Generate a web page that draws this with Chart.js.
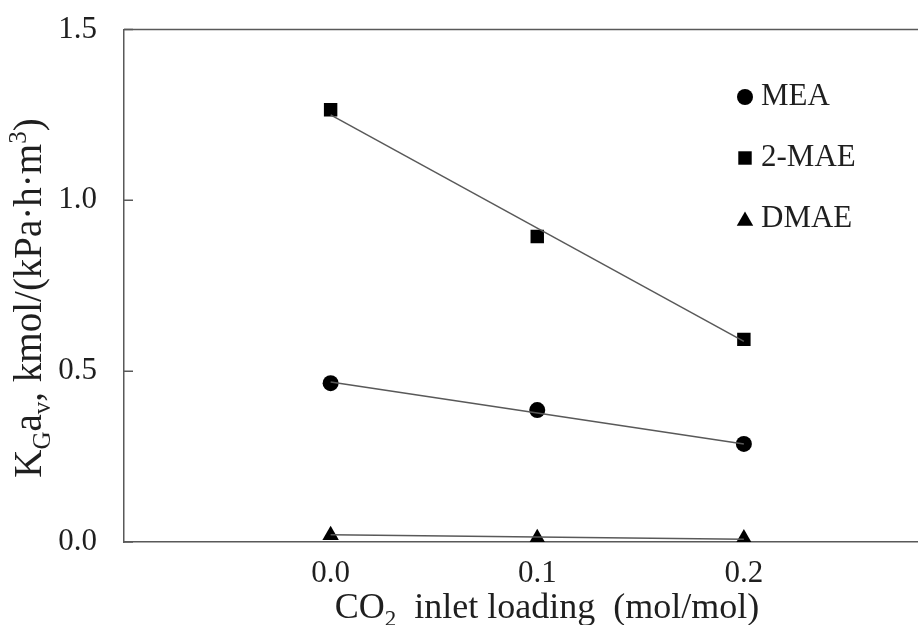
<!DOCTYPE html>
<html>
<head>
<meta charset="utf-8">
<script src="https://cdn.jsdelivr.net/npm/chart.js@4/dist/chart.umd.min.js"></script>
<style>
  html, body { margin: 0; padding: 0; background: #fff; overflow: hidden; }
  #wrap { width: 960px; height: 625px; }
</style>
</head>
<body>
<div id="wrap"><canvas id="kga-chart" width="960" height="625"></canvas></div>
<script>
// CO2 loading on the x axis (mol/mol)
const loadings = [0.0, 0.1, 0.2];
// KGav values
const mea = [0.465, 0.386, 0.287];
const mae2 = [1.265, 0.894, 0.593];
const dmae = [0.020, 0.011, 0.010];
// straight trend lines (ends at 0.0 and 0.2)
const fitX = [0.0, 0.2];
const meaFit = [0.468, 0.287];
const mae2Fit = [1.250, 0.587];
const dmaeFit = [0.021, 0.008];

const xTicks = [0.0, 0.1, 0.2];
const yTicks = [0.0, 0.5, 1.0, 1.5];

const FONT = "'Liberation Serif', 'Times New Roman', serif";
const TXT = "#1f1f1f";
const AXIS = "#595959";

const pts = (xs, ys) => xs.map((x, i) => ({ x: x, y: ys[i] }));

function markerSet(label, ys, style, r) {
    return {
        label: label, data: pts(loadings, ys), showLine: false, legendItem: true,
        pointStyle: style, pointRadius: r, pointHoverRadius: r,
        backgroundColor: "#000", borderColor: "#000", borderWidth: 0
    };
}
function fitSet(ys) {
    return {
        label: "", data: pts(fitX, ys), showLine: true,
        pointRadius: 0, borderColor: AXIS, borderWidth: 1.5
    };
}

function marker(ctx, style, r, x, y) {
    ctx.beginPath();
    if (style === "circle") {
        ctx.arc(x, y, r, 0, Math.PI * 2);
    } else if (style === "rect") {
        const s = Math.SQRT1_2 * r;
        ctx.rect(x - s, y - s, 2 * s, 2 * s);
    } else {
        ctx.moveTo(x, y - r);
        ctx.lineTo(x + r * Math.sin(Math.PI / 3), y + r / 2);
        ctx.lineTo(x - r * Math.sin(Math.PI / 3), y + r / 2);
        ctx.closePath();
    }
    ctx.fill();
}

// draws run of text pieces, with sub/superscripts
function richText(ctx, parts, size) {
    const small = Math.round(size * 0.65);
    let w = 0;
    parts.forEach(p => {
        ctx.font = (p.sub || p.sup ? small : size) + "px " + FONT;
        p.w = ctx.measureText(p.t).width;
        w += p.w;
    });
    let x = -w / 2;
    parts.forEach(p => {
        ctx.font = (p.sub || p.sup ? small : size) + "px " + FONT;
        const dy = p.sub ? size * 0.22 : (p.sup ? -size * 0.38 : 0);
        ctx.fillText(p.t, x, dy);
        x += p.w;
    });
}

const decorations = {
    id: "decorations",
    afterDraw(chart) {
        const ctx = chart.ctx;
        const a = chart.chartArea;
        const ys = chart.scales.y;
        ctx.save();
        // top and right frame
        ctx.strokeStyle = AXIS;
        ctx.lineWidth = 1.5;
        ctx.beginPath();
        ctx.moveTo(a.left, a.top);
        ctx.lineTo(a.right, a.top);
        ctx.lineTo(a.right, a.bottom);
        ctx.stroke();
        // inward ticks on the y axis
        ctx.beginPath();
        yTicks.forEach(v => {
            const py = ys.getPixelForValue(v);
            ctx.moveTo(a.left, py);
            ctx.lineTo(a.left + 9, py);
        });
        ctx.stroke();

        // legend
        ctx.textBaseline = "middle";
        ctx.textAlign = "left";
        let ly = 97;
        chart.data.datasets.forEach(ds => {
            if (!ds.legendItem) return;
            ctx.fillStyle = "#000";
            marker(ctx, ds.pointStyle, ds.pointRadius, 745, ly + (ds.pointStyle === "triangle" ? 2 : 0));
            ctx.fillStyle = TXT;
            ctx.font = "31px " + FONT;
            ctx.fillText(ds.label, 761, ly);
            ly += 61;
        });

        // axis titles
        ctx.fillStyle = TXT;
        ctx.textBaseline = "alphabetic";
        ctx.textAlign = "left";
        ctx.save();
        ctx.translate(547, 618);
        richText(ctx, [{ t: "CO" }, { t: "2", sub: true }, { t: "  inlet loading  (mol/mol)" }], 36);
        ctx.restore();
        ctx.save();
        ctx.translate(41, 298);
        ctx.rotate(-Math.PI / 2);
        richText(ctx, [{ t: "K" }, { t: "G", sub: true }, { t: "a" }, { t: "v", sub: true },
            { t: ", kmol/(kPa·h·m" }, { t: "3", sup: true }, { t: ")" }], 39);
        ctx.restore();
        ctx.restore();
    }
};

const cnv = document.getElementById("kga-chart");
const kgaChart = new Chart(cnv.getContext("2d"), {
    type: "scatter",
    data: {
        datasets: [
            fitSet(meaFit), fitSet(mae2Fit), fitSet(dmaeFit),
            markerSet("MEA", mea, "circle", 8),
            markerSet("2-MAE", mae2, "rect", 9.5),
            markerSet("DMAE", dmae, "triangle", 9.5)
        ]
    },
    options: {
        responsive: false,
        animation: false,
        layout: { padding: { top: 29.5, right: 4, left: 0, bottom: 0 } },
        plugins: { legend: { display: false }, tooltip: { enabled: false } },
        scales: {
            x: {
                type: "linear", min: -0.1, max: 0.3,
                afterBuildTicks: s => { s.ticks = xTicks.map(v => ({ value: v })); },
                afterFit: s => { s.height = 83; s.paddingLeft = 0; s.paddingRight = 0; },
                grid: { display: false, drawTicks: false },
                border: { display: true, color: AXIS, width: 1.5 },
                ticks: {
                    padding: 13, color: TXT, maxRotation: 0,
                    font: { family: FONT, size: 31 },
                    callback: v => v.toFixed(1)
                }
            },
            y: {
                type: "linear", min: 0, max: 1.5,
                afterBuildTicks: s => { s.ticks = yTicks.map(v => ({ value: v })); },
                afterFit: s => { s.width = 124; s.paddingTop = 0; s.paddingBottom = 0; },
                grid: { display: false, drawTicks: false },
                border: { display: true, color: AXIS, width: 1.5 },
                ticks: {
                    padding: 27, color: TXT,
                    font: { family: FONT, size: 31 },
                    callback: v => v.toFixed(1)
                }
            }
        }
    },
    plugins: [decorations]
});
</script>
</body>
</html>
